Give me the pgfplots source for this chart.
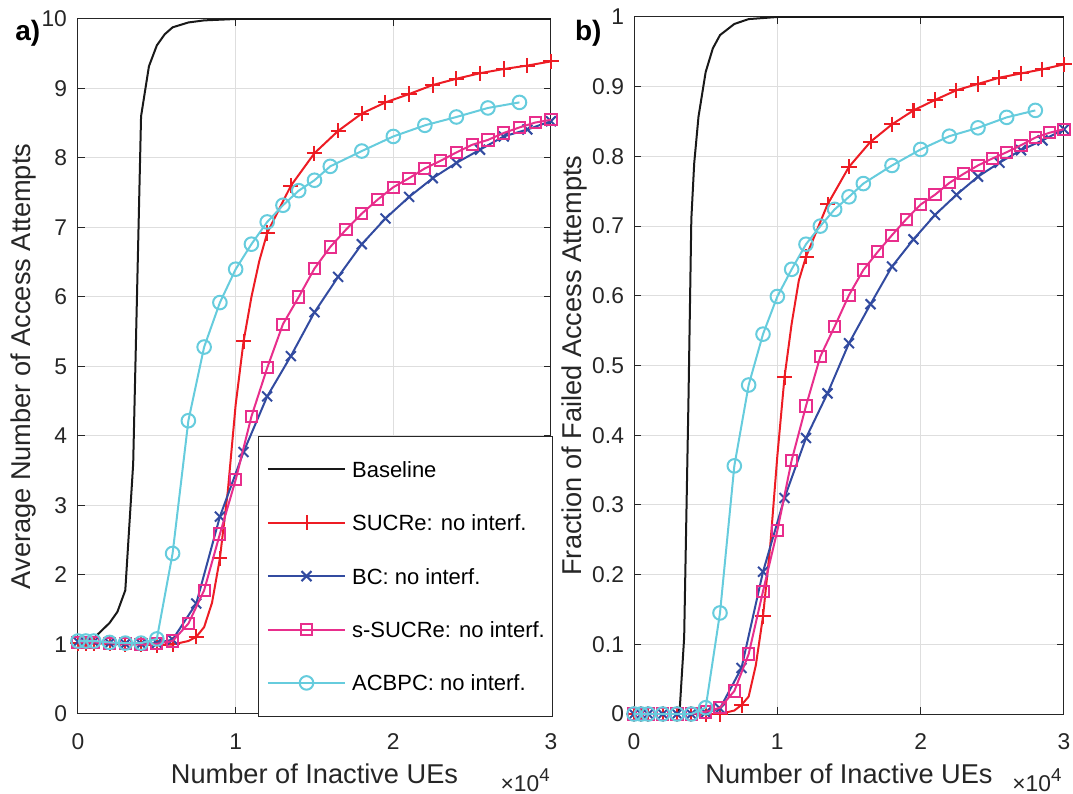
\documentclass[border=0pt]{standalone}
\usepackage{fontspec}
\setmainfont{Liberation Sans}
\usepackage{pgfplots}
\pgfplotsset{compat=1.18}
\definecolor{axisgray}{rgb}{0.15,0.15,0.15}
\definecolor{gridgray}{rgb}{0.87,0.87,0.87}
\definecolor{cred}{RGB}{237,28,36}
\definecolor{cblue}{RGB}{50,75,160}
\definecolor{cmag}{RGB}{232,46,140}
\definecolor{ccyan}{RGB}{102,204,221}
\definecolor{cblack}{RGB}{25,25,25}
\newcommand\scalelabel{{\fontsize{11.4}{13}\selectfont ×10\raisebox{5pt}{\fontsize{9.3}{10}\selectfont 4}}}
\pgfplotsset{
  panel/.style={
    scale only axis,
    xmin=0, xmax=3, xtick={0,1,2,3},
    grid=major,
    major grid style={draw=gridgray, line width=0.5pt},
    axis line style={draw=axisgray, line width=0.5pt},
    tick style={draw=axisgray, line width=0.5pt},
    major tick length=3.5pt,
    tick align=inside,
    tick label style={font=\fontsize{11.4}{13}\selectfont, text=axisgray},
    xticklabel style={yshift=-6.5pt},
    yticklabel style={xshift=-2pt},
    label style={font=\fontsize{13.6}{16}\selectfont, text=axisgray},
    /pgf/number format/assume math mode=true,
    clip mode=individual,
    legend cell align=left,
  },
  lw/.style={line width=1pt, mark options={solid, line width=1pt}},
}
\begin{document}
\begin{tikzpicture}
\useasboundingbox (-39pt,-40pt) rectangle (497.5pt,357pt);
% ---------------- panel a ----------------
\begin{axis}[panel, at={(0,0)}, anchor=south west, width=236.5pt, height=347.5pt,
  ymin=0, ymax=10, ytick={0,1,2,3,4,5,6,7,8,9,10},
  xlabel={Number of Inactive UEs},
  ylabel={Average Number of Access Attempts},
  x label style={at={(axis description cs:0.5,-0.0863)}, anchor=center},
  y label style={at={(axis description cs:-0.1152,0.5)}, anchor=center},
  legend style={at={(rel axis cs:1.005,-0.0039)}, anchor=south east,
    draw=axisgray, line width=0.5pt, fill=white, text=black,
    font=\fontsize{11}{13}\selectfont,
    inner xsep=4pt, inner ysep=11.4pt, row sep=16.2pt, column sep=3pt,
    nodes={inner sep=0pt, text height=9.25pt, text depth=1.25pt}},
  legend image code/.code={\draw[mark repeat=2,mark phase=2] plot coordinates {(0pt,0pt) (19.3pt,0pt) (38.6pt,0pt)};},
]
\addplot[cblack, lw] coordinates {
(0,1.0) (0.05,1.03) (0.1,1.09) (0.15,1.2) (0.2,1.31) (0.25,1.47) (0.3,1.78)
(0.35,3.6) (0.4,8.6) (0.45,9.32) (0.5,9.62) (0.55,9.78) (0.6,9.88) (0.7,9.95)
(0.8,9.98) (1.0,10) (3.0,10)};
\addplot[cred, lw, forget plot] coordinates {
(0,1.02) (0.05,1.02) (0.1,1.02) (0.2,1.01) (0.3,1.0) (0.4,1.0) (0.5,0.99)
(0.6,1.0) (0.7,1.05) (0.75,1.11) (0.8,1.25) (0.85,1.6) (0.9,2.24) (0.95,3.2)
(1.0,4.45) (1.05,5.36) (1.1,6.0) (1.15,6.52) (1.2,6.92) (1.35,7.60) (1.5,8.07)
(1.65,8.39) (1.8,8.64) (1.95,8.80) (2.1,8.92) (2.25,9.05) (2.4,9.14) (2.55,9.22)
(2.7,9.28) (2.85,9.33) (3.0,9.39)};
\addplot[cred, lw, only marks, mark=+, mark size=3.8pt, forget plot] coordinates {
(0,1.02) (0.05,1.02) (0.1,1.02) (0.2,1.01) (0.3,1.0) (0.4,1.0) (0.5,0.99)
(0.6,1.0) (0.75,1.11) (0.9,2.24) (1.05,5.36) (1.2,6.92) (1.35,7.60) (1.5,8.07)
(1.65,8.39) (1.8,8.64) (1.95,8.80) (2.1,8.92) (2.25,9.05) (2.4,9.14) (2.55,9.22)
(2.7,9.28) (2.85,9.33) (3.0,9.39)};
\addlegendimage{cred, lw, mark=+, mark size=3.8pt}
\addplot[cblue, lw, mark=x, mark size=3.5pt] coordinates {
(0,1.04) (0.05,1.04) (0.1,1.04) (0.2,1.02) (0.3,1.01) (0.4,1.01) (0.5,1.02)
(0.6,1.07) (0.75,1.59) (0.9,2.84) (1.05,3.77) (1.2,4.57) (1.35,5.15) (1.5,5.78)
(1.65,6.29) (1.8,6.76) (1.95,7.13) (2.1,7.44) (2.25,7.71) (2.4,7.93) (2.55,8.12)
(2.7,8.31) (2.85,8.41) (3.0,8.53)};
\addplot[cmag, lw, mark=square, mark size=2.8pt] coordinates {
(0,1.03) (0.05,1.03) (0.1,1.03) (0.2,1.02) (0.3,1.01) (0.4,1.0) (0.5,1.01)
(0.6,1.05) (0.7,1.30) (0.8,1.78) (0.9,2.59) (1.0,3.37) (1.1,4.28) (1.2,4.98)
(1.3,5.61) (1.4,6.00) (1.5,6.41) (1.6,6.72) (1.7,6.97) (1.8,7.20) (1.9,7.40)
(2.0,7.58) (2.1,7.71) (2.2,7.85) (2.3,7.96) (2.4,8.08) (2.5,8.19) (2.6,8.26)
(2.7,8.36) (2.8,8.44) (2.9,8.51) (3.0,8.55)};
\addplot[ccyan, lw, mark=o, mark size=3.4pt] coordinates {
(0,1.05) (0.05,1.05) (0.1,1.05) (0.2,1.03) (0.3,1.02) (0.4,1.02) (0.5,1.08)
(0.6,2.31) (0.7,4.22) (0.8,5.28) (0.9,5.92) (1.0,6.40) (1.1,6.76) (1.2,7.08)
(1.3,7.32) (1.4,7.53) (1.5,7.68) (1.6,7.88) (1.8,8.10) (2.0,8.31) (2.2,8.47)
(2.4,8.59) (2.6,8.72) (2.8,8.80)};
\legend{Baseline, SUCRe: no interf., BC: no interf., s-SUCRe: no interf., ACBPC: no interf.}
\node[anchor=base east, text=axisgray, inner sep=0pt] at (axis description cs:0.998,-0.1108) {\scalelabel};
\node[anchor=west, font=\bfseries\fontsize{14}{16}\selectfont, text=black] at (axis description cs:-0.1474,0.98) {a)};
\end{axis}
% ---------------- panel b ----------------
\begin{axis}[panel, at={(278pt,0)}, anchor=south west, width=215pt, height=348.5pt,
  ymin=0, ymax=1, ytick={0,0.1,0.2,0.3,0.4,0.5,0.6,0.7,0.8,0.9,1},
  yticklabel style={xshift=0.5pt},
  xlabel={Number of Inactive UEs},
  ylabel={Fraction of Failed Access Attempts},
  x label style={at={(axis description cs:0.5,-0.0861)}, anchor=center},
  y label style={at={(axis description cs:-0.1395,0.5)}, anchor=center},
]
\addplot[cblack, lw] coordinates {
(0,0) (0.3,0) (0.32,0.01) (0.35,0.11) (0.38,0.45) (0.4,0.71) (0.42,0.79)
(0.45,0.857) (0.5,0.921) (0.55,0.955) (0.6,0.974) (0.7,0.99) (0.8,0.997)
(1.0,1.0) (3.0,1.0)};
\addplot[cred, lw] coordinates {
(0,0) (0.05,0) (0.1,0) (0.2,0) (0.3,0) (0.4,0) (0.5,0) (0.6,0.0) (0.7,0.005)
(0.75,0.013) (0.8,0.025) (0.85,0.07) (0.9,0.14) (0.95,0.24) (1.0,0.37)
(1.05,0.483) (1.1,0.56) (1.15,0.622) (1.2,0.656) (1.35,0.731) (1.5,0.785)
(1.65,0.821) (1.8,0.846) (1.95,0.866) (2.1,0.881) (2.25,0.895) (2.4,0.904)
(2.55,0.913) (2.7,0.919) (2.85,0.925) (3.0,0.932)};
\addplot[cred, lw, only marks, mark=+, mark size=3.8pt] coordinates {
(0,0) (0.05,0) (0.1,0) (0.2,0) (0.3,0) (0.4,0) (0.5,0) (0.6,0.0)
(0.75,0.013) (0.9,0.14) (1.05,0.483) (1.2,0.656) (1.35,0.731) (1.5,0.785)
(1.65,0.821) (1.8,0.846) (1.95,0.866) (2.1,0.881) (2.25,0.895) (2.4,0.904)
(2.55,0.913) (2.7,0.919) (2.85,0.925) (3.0,0.932)};
\addplot[cblue, lw, mark=x, mark size=3.5pt] coordinates {
(0,0) (0.05,0) (0.1,0) (0.2,0) (0.3,0) (0.4,0) (0.5,0.002) (0.6,0.008)
(0.75,0.066) (0.9,0.204) (1.05,0.31) (1.2,0.396) (1.35,0.46) (1.5,0.532)
(1.65,0.588) (1.8,0.642) (1.95,0.681) (2.1,0.716) (2.25,0.745) (2.4,0.771)
(2.55,0.791) (2.7,0.809) (2.85,0.823) (3.0,0.839)};
\addplot[cmag, lw, mark=square, mark size=2.8pt] coordinates {
(0,0) (0.05,0) (0.1,0) (0.2,0) (0.3,0) (0.4,0) (0.5,0.003) (0.6,0.009)
(0.7,0.033) (0.8,0.086) (0.9,0.176) (1.0,0.263) (1.1,0.364) (1.2,0.442)
(1.3,0.513) (1.4,0.556) (1.5,0.601) (1.6,0.637) (1.7,0.663) (1.8,0.687)
(1.9,0.710) (2.0,0.731) (2.1,0.745) (2.2,0.762) (2.3,0.775) (2.4,0.787)
(2.5,0.797) (2.6,0.806) (2.7,0.816) (2.8,0.827) (2.9,0.834) (3.0,0.839)};
\addplot[ccyan, lw, mark=o, mark size=3.4pt] coordinates {
(0,0) (0.05,0) (0.1,0) (0.2,0) (0.3,0) (0.4,0) (0.5,0.009) (0.6,0.145)
(0.7,0.356) (0.8,0.472) (0.9,0.545) (1.0,0.599) (1.1,0.638) (1.2,0.674)
(1.3,0.700) (1.4,0.724) (1.5,0.742) (1.6,0.761) (1.8,0.787) (2.0,0.810)
(2.2,0.829) (2.4,0.841) (2.6,0.856) (2.8,0.866)};
\node[anchor=base east, text=axisgray, inner sep=0pt] at (axis description cs:0.995,-0.1105) {\scalelabel};
\node[anchor=west, font=\bfseries\fontsize{14}{16}\selectfont, text=black] at (axis description cs:-0.1535,0.977) {b)};
\end{axis}
\end{tikzpicture}
\end{document}
